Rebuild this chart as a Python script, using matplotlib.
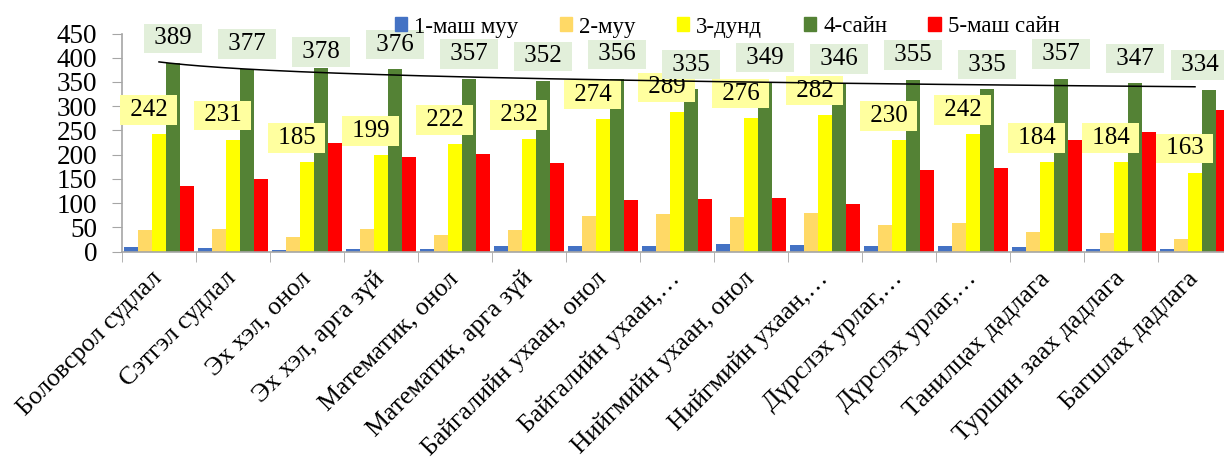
import matplotlib
matplotlib.use('Agg')
import matplotlib.pyplot as plt
from matplotlib.patches import Patch
import numpy as np

plt.rcParams['font.family'] = ['Liberation Serif', 'DejaVu Serif']

categories = ['Боловсрол судлал', 'Сэтгэл судлал', 'Эх хэл, онол', 'Эх хэл, арга зүй',
              'Математик, онол', 'Математик, арга зүй', 'Байгалийн ухаан, онол',
              'Байгалийн ухаан,…', 'Нийгмийн ухаан, онол', 'Нийгмийн ухаан,…',
              'Дүрслэх урлаг,…', 'Дүрслэх урлаг,…', 'Танилцах дадлага',
              'Туршин заах дадлага', 'Багшлах дадлага']

series_names = ['1-маш муу', '2-муу', '3-дунд', '4-сайн', '5-маш сайн']

very_poor = [10, 8, 3, 5, 6, 12, 12, 12, 16, 14, 12, 12, 10, 6, 5]
poor = [45, 47, 30, 46, 35, 45, 73, 77, 71, 80, 56, 59, 40, 38, 26]
average = [242, 231, 185, 199, 222, 232, 274, 289, 276, 282, 230, 242, 184, 184, 163]
good = [389, 377, 378, 376, 357, 352, 356, 335, 349, 346, 355, 335, 357, 347, 334]
very_good = [135, 149, 225, 195, 201, 182, 107, 108, 111, 98, 168, 172, 230, 246, 293]

colors = ['#4472C4', '#FFD966', '#FFFF00', '#548235', '#FF0000']

fig = plt.figure(figsize=(12.24, 4.70), dpi=100)
ax = fig.add_axes([122 / 1224, 1 - 251.7 / 470, 1110 / 1224, 218.2 / 470])

x = np.arange(len(categories))
w = 0.19
all_series = [very_poor, poor, average, good, very_good]
for i, vals in enumerate(all_series):
    ax.bar(x + (i - 2) * w, vals, w, color=colors[i], edgecolor='none', zorder=2)

# data labels for 3-дунд and 4-сайн
for k in range(len(x)):
    ax.text(x[k] - 0.14, average[k] + 50, ' %d ' % average[k], ha='center', va='center',
            fontsize=18, bbox=dict(boxstyle='square,pad=0.15', fc='#FFFF9F', ec='none'),
            zorder=4, clip_on=False)
    off = 34 if k == 2 else 51
    gx = min(x[k] + w, len(x) - 1 + 0.07)
    ax.text(gx, good[k] + off, ' %d ' % good[k], ha='center', va='center',
            fontsize=18, bbox=dict(boxstyle='square,pad=0.15', fc='#E2EFDA', ec='none'),
            zorder=4, clip_on=False)

# logarithmic trendline of 4-сайн
n = np.arange(1, len(good) + 1)
a, b = np.polyfit(np.log(n), good, 1)
xs = np.linspace(1, len(good), 200)
ax.plot(xs - 1, a * np.log(xs) + b, color='black', lw=1.1, zorder=5)

ax.set_xlim(-0.5, len(categories) - 0.5)
ax.set_ylim(0, 450)
ax.set_yticks(range(0, 451, 50))
ax.tick_params(axis='y', labelsize=19.5, length=7, color='#A6A6A6', pad=11)

ax.set_xticks(x)
ax.set_xticklabels(categories, rotation=45, ha='right', va='center',
                   rotation_mode='anchor', fontsize=18.5)
ax.tick_params(axis='x', which='major', length=0, pad=17)
ax.set_xticks(np.arange(-0.5, len(categories)), minor=True)
ax.tick_params(axis='x', which='minor', length=7, color='#A6A6A6')

for s in ['top', 'right']:
    ax.spines[s].set_visible(False)
for s in ['left', 'bottom']:
    ax.spines[s].set_color('#A6A6A6')
    ax.spines[s].set_linewidth(1.2)

handles = [Patch(color=c) for c in colors]
fig.legend(handles, series_names, loc='center', bbox_to_anchor=(0.594, 1 - 27 / 470),
           ncol=5, frameon=False, fontsize=16.5, handlelength=0.55, handleheight=0.55,
           handletextpad=0.3, columnspacing=1.8)

plt.savefig('out.png', dpi=100)
